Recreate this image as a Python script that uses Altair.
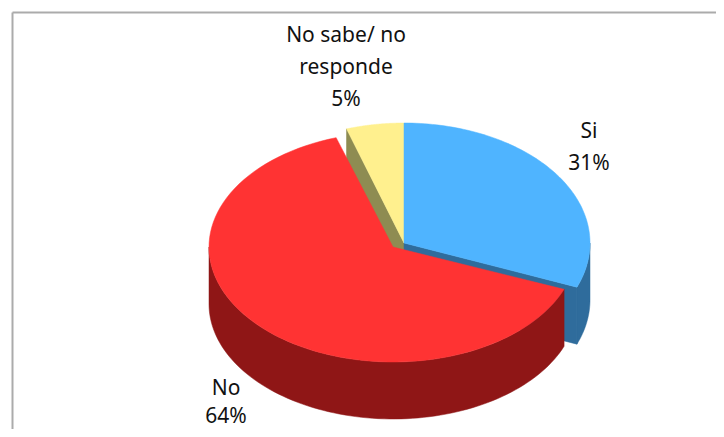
import numpy as np
import pandas as pd
import altair as alt

labels = ["Si", "No", "No sabe/ no responde"]
shares = [31, 64, 5]
top_colors = ["#4FB4FF", "#FF3333", "#FFF08E"]
wall_colors = ["#2F6C9C", "#8F1616", "#8E8C52"]

label_lines = ["No sabe/ no", "responde", "5%", "Si", "31%", "No", "64%"]
label_x = [346, 346, 346, 589, 589, 226, 226]
label_y = [36, 68, 100, 132, 164, 389, 417]

frame_x = [12.5, 12.5]
frame_x2 = [716, 12.5]
frame_y = [12.5, 12.5]
frame_y2 = [12.5, 429]

W, H = 708, 421
DEPTH = 57
# centre and radii of each slice's ellipse
geom = {
    "Si": (404, 243, 186, 120),
    "No": (393, 247, 184, 115),
    "No sabe/ no responde": (404, 243, 186, 120),
}

cum = np.cumsum([0] + shares) * 3.6
ang = {l: (cum[i], cum[i + 1]) for i, l in enumerate(labels)}


def arc(g, t0, t1, dz=0):
    cx, cy, rx, ry = g
    t = np.radians(np.linspace(t0, t1, 90))
    return list(cx + rx * np.sin(t)), list(cy - ry * np.cos(t) + dz)


def top(g, t0, t1):
    x, y = arc(g, t0, t1)
    return [g[0]] + x + [g[0]], [g[1]] + y + [g[1]]


def outer_wall(g, t0, t1):
    x, y = arc(g, t0, t1)
    x2, y2 = arc(g, t1, t0, DEPTH)
    return x + x2 + x[:1], y + y2 + y[:1]


def radial_wall(g, t):
    x, y = arc(g, t, t, 0)
    ex, ey = x[0], y[0]
    cx, cy = g[0], g[1]
    return [cx, ex, ex, cx, cx], [cy, ey, ey + DEPTH, cy + DEPTH, cy]


blue, red, yellow = labels
shapes = [
    (radial_wall(geom[yellow], ang[yellow][0]), wall_colors[2]),
    (top(geom[yellow], *ang[yellow]), top_colors[2]),
    (radial_wall(geom[blue], ang[blue][1]), wall_colors[0]),
    (outer_wall(geom[blue], 90, ang[blue][1]), wall_colors[0]),
    (top(geom[blue], *ang[blue]), top_colors[0]),
    (outer_wall(geom[red], ang[red][0], 270), wall_colors[1]),
    (top(geom[red], *ang[red]), top_colors[1]),
]

xs = alt.Scale(domain=[8, 8 + W], nice=False, zero=False)
ys = alt.Scale(domain=[8 + H, 8], nice=False, zero=False)

layers = []
for (px, py), color in shapes:
    df = pd.DataFrame({"x": px, "y": py, "i": range(len(px))})
    layers.append(
        alt.Chart(df)
        .mark_line(fill=color, stroke=color, strokeWidth=0.5, clip=False)
        .encode(
            x=alt.X("x:Q", scale=xs, axis=None),
            y=alt.Y("y:Q", scale=ys, axis=None),
            order="i:Q",
        )
    )

frame = (
    alt.Chart(pd.DataFrame({"x": frame_x, "x2": frame_x2, "y": frame_y, "y2": frame_y2}))
    .mark_rule(color="#ABABAB", strokeWidth=2)
    .encode(
        x=alt.X("x:Q", scale=xs, axis=None),
        x2="x2:Q",
        y=alt.Y("y:Q", scale=ys, axis=None),
        y2="y2:Q",
    )
)

text = (
    alt.Chart(pd.DataFrame({"t": label_lines, "x": label_x, "y": label_y}))
    .mark_text(font="Noto Sans", fontSize=21, color="#111111", align="center", baseline="middle")
    .encode(
        x=alt.X("x:Q", scale=xs, axis=None),
        y=alt.Y("y:Q", scale=ys, axis=None),
        text="t:N",
    )
)

chart = (
    alt.layer(frame, *layers, text)
    .properties(
        width=W,
        height=H,
        padding=0,
        autosize=alt.AutoSizeParams(type="none"),
        background="white",
    )
    .configure_view(stroke=None)
)
chart.save("out.html", embed_options={"renderer": "svg", "actions": False})
